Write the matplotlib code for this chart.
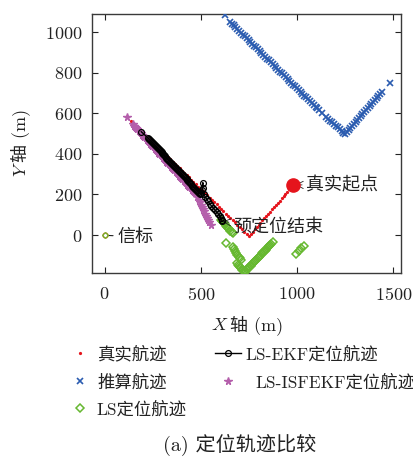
import matplotlib
matplotlib.use('Agg')
import matplotlib.pyplot as plt
from matplotlib.lines import Line2D

plt.rcParams['font.family'] = ['cmr10', 'Noto Sans CJK SC']
plt.rcParams['mathtext.fontset'] = 'cm'
plt.rcParams['axes.formatter.use_mathtext'] = True
plt.rcParams['axes.unicode_minus'] = False

RED = '#e5141c'
BLUE = '#2b5cb0'
GREEN = '#66b830'
PURPLE = '#b45fab'
TXT = '#222222'

# ---------------- data ----------------
# true track (red dots)
true_x = [980, 970, 960, 950, 940, 930, 920, 910, 900, 890, 880, 870, 860, 850, 840, 830,
          820, 810, 800, 790, 780, 770, 760, 750,
          738, 726, 714, 702, 690, 678, 666, 654, 642, 630, 618, 606, 594, 582, 570, 558,
          546, 534, 522, 510, 498, 486, 474, 462, 450, 438, 426, 414, 402, 390, 378, 366,
          354, 342, 330, 318, 306, 294, 282, 270, 258, 246, 234, 222, 210, 198, 186, 174,
          162, 150, 140]
true_y = [247, 236, 225, 214, 203, 192, 182, 170, 159, 148, 137, 126, 115, 104, 94, 83,
          72, 61, 50, 39, 28, 17, 6, -5,
          6, 17, 28, 39, 51, 62, 73, 84, 95, 106, 117, 128, 139, 151, 162, 173,
          184, 195, 206, 217, 228, 239, 251, 262, 273, 284, 295, 306, 317, 328, 339, 351,
          362, 373, 384, 395, 406, 417, 428, 439, 451, 462, 473, 484, 495, 506, 517, 528,
          539, 550, 560]
start_x = [980]
start_y = [247]

# dead-reckoning track (blue x)
dr_x = [625,
        651, 661, 670, 680, 690, 699, 709, 719, 728, 738, 748, 757, 767, 777, 786, 796,
        806, 815, 825, 835, 844, 854, 864, 873, 883, 893, 902, 912, 922, 931, 941, 951,
        960, 970, 980, 989, 999, 1009, 1018, 1028, 1038, 1047, 1057, 1067, 1076, 1086,
        1096, 1105, 1115, 1128,
        1151, 1161, 1171, 1181, 1191, 1201, 1211, 1221, 1231, 1241, 1250,
        1259, 1268, 1277, 1286, 1295, 1304, 1313, 1322, 1331, 1340, 1349, 1358, 1368,
        1377, 1386, 1395, 1404, 1413, 1422, 1431, 1441,
        1481]
dr_y = [1085,
        1051, 1042, 1033, 1024, 1014, 1006, 996, 987, 979, 969, 960, 951, 942, 932, 924, 915,
        905, 897, 887, 878, 869, 860, 851, 842, 833, 823, 815, 805, 796, 787, 778, 769,
        760, 751, 741, 733, 723, 714, 706, 696, 687, 678, 669, 660, 651, 642,
        632, 624, 614, 602,
        580, 572, 563, 555, 547, 539, 530, 522, 514, 505, 497,
        507, 517, 527, 537, 546, 556, 566, 576, 586, 596, 606, 615, 626,
        636, 646, 656, 666, 675, 685, 695, 706,
        747]

# LS positioning (green diamonds)
ls_x = [606, 612, 617, 622, 628, 633, 638, 644, 649, 654, 660, 666,
        630,
        665, 671, 677, 683, 689, 696, 703, 710,
        686, 692, 698, 704, 710, 716, 722, 729,
        735, 741, 747, 753, 759, 765, 771, 777, 783, 789, 795, 801, 807, 813, 819, 825,
        831, 837, 843, 849, 855, 861, 867, 873,
        995, 1008, 1022, 1036]
ls_y = [76, 70, 64, 58, 52, 46, 40, 34, 28, 22, 16, 10,
        -38,
        -61, -70, -80, -89, -98, -106, -114, -122,
        -139, -146, -152, -158, -164, -170, -175, -181,
        -175, -169, -163, -157, -151, -145, -139, -133, -127, -121, -115, -109, -103, -97, -90, -84,
        -78, -72, -66, -60, -54, -48, -42, -36,
        -92, -80, -66, -52]

# LS-ISFEKF positioning (purple)
isf_x = [116,
         147, 153, 159, 165, 171, 177, 183, 189, 195, 201, 207, 213, 219, 225, 231, 237,
         243, 249, 255, 261, 267, 273, 279, 285, 291, 297, 303, 309, 315, 321, 327, 333,
         339, 345, 351, 357, 363, 369, 375, 381, 387, 393, 399, 405, 411, 417, 423, 429,
         435, 441, 447, 453, 459, 465, 471,
         482, 490, 496, 502, 507, 512, 517, 522, 527, 532, 538, 544, 552]
isf_y = [580,
         545, 539, 532, 526, 520, 514, 507, 501, 495, 488, 482, 476, 469, 463, 457, 450,
         444, 438, 432, 425, 419, 413, 406, 400, 394, 387, 381, 375, 369, 362, 356, 350,
         343, 337, 331, 324, 318, 312, 306, 299, 293, 287, 280, 274, 268, 261, 255, 249,
         243, 236, 230, 224, 217, 211, 205,
         185, 172, 162, 150, 140, 128, 117, 106, 95, 84, 73, 62, 50]

# LS-EKF positioning (black circles)
ekf_x = [191,
         226, 231, 236, 241, 246, 251, 256, 261, 266, 271, 276, 281, 286, 291, 296, 301,
         306, 311, 316, 321, 326, 331, 336, 341, 346, 351, 356, 361, 366, 371, 376, 381,
         386, 391, 396, 401, 406, 411, 416, 421, 426, 431, 436, 441, 446, 451, 456, 461,
         466, 471, 476, 481, 486, 491, 496,
         500, 506, 511, 510, 516, 524, 532, 538, 546, 555, 564, 573, 582, 590, 598, 604,
         608, 612]
ekf_y = [509,
         478, 473, 468, 463, 458, 453, 448, 442, 437, 432, 427, 422, 417, 412, 407, 402,
         397, 392, 387, 382, 376, 371, 366, 361, 356, 351, 346, 341, 336, 331, 326, 321,
         316, 310, 305, 300, 295, 290, 285, 280, 275, 270, 265, 260, 255, 250, 244, 239,
         234, 229, 224, 219, 214, 209, 204,
         206, 222, 258, 230, 200, 186, 176, 166, 154, 144, 134, 124, 114, 106, 94, 82,
         74, 68]

beacon_x = [0]
beacon_y = [0]

xticks = [0, 500, 1000, 1500]
yticks = [0, 200, 400, 600, 800, 1000]

# ---------------- figure ----------------
W, H = 414, 461
fig = plt.figure(figsize=(W / 100, H / 100), dpi=100)
ax = fig.add_axes([92 / W, 1 - 273 / H, (401 - 92) / W, (273 - 14) / H])

ax.plot(true_x, true_y, linestyle='none', marker='.', ms=2.6, color=RED, zorder=2)
ax.plot(dr_x, dr_y, linestyle='none', marker='x', ms=3.8, mew=1.2, color=BLUE, zorder=3)
ax.plot(ls_x, ls_y, linestyle='none', marker='D', ms=3.8, mfc='none', mec=GREEN, mew=1.1, zorder=3)
ax.plot(isf_x, isf_y, linestyle='none', marker='*', ms=5.5, color=PURPLE, mec=PURPLE, zorder=4)
ax.plot(ekf_x, ekf_y, '-o', ms=4.2, mfc='none', color='black', mew=0.9, lw=1.0, zorder=5)
ax.plot(start_x, start_y, 'o', ms=9.5, color=RED, zorder=6)
ax.plot(beacon_x, beacon_y, linestyle='none', marker='o', ms=3.5, mfc='none', mec='#e07020', mew=1.0, zorder=6)
ax.plot(beacon_x, beacon_y, linestyle='none', marker='D', ms=3.0, mfc='none', mec=GREEN, mew=0.8, zorder=6)

ax.set_xlim(-65, 1540)
ax.set_ylim(-187, 1089)
ax.set_xticks(xticks)
ax.set_yticks(yticks)
ax.tick_params(direction='in', top=True, right=True, length=4, width=0.8,
               labelsize=13, colors=TXT)
ax.tick_params(axis='x', pad=9)
ax.tick_params(axis='y', pad=7)
for s in ax.spines.values():
    s.set_color('#3a3a3a')
    s.set_linewidth(1.0)

ann_kw = dict(fontsize=13, color=TXT, va='center', ha='left')
ax.annotate('真实起点', xy=(990, 247), xytext=(1048, 247),
            arrowprops=dict(arrowstyle='->', lw=0.6, color=TXT, shrinkA=1, shrinkB=0), **ann_kw)
ax.annotate('预定位结束', xy=(614, 66), xytext=(668, 44),
            arrowprops=dict(arrowstyle='->', lw=0.6, color=TXT, shrinkA=1, shrinkB=0), **ann_kw)
ax.annotate('信标', xy=(18, -2), xytext=(66, -8),
            arrowprops=dict(arrowstyle='-', lw=0.8, color=TXT, shrinkA=1, shrinkB=0), **ann_kw)

# ---------------- axis labels: italic variable + CJK text ----------------
renderer = fig.canvas.get_renderer()


def px(x, y_top):
    return x / W, 1 - y_top / H


def xlabel_mixed(var, rest, cx, base_y):
    t1 = fig.text(0, 0, var, family='cmmi10', fontsize=13, color=TXT, ha='left', va='baseline')
    t2 = fig.text(0, 0, rest, fontsize=13, color=TXT, ha='left', va='baseline')
    w1 = t1.get_window_extent(renderer).width
    w2 = t2.get_window_extent(renderer).width
    left = cx - (w1 + w2) / 2
    t1.set_position(px(left, base_y))
    t2.set_position(px(left + w1 + 3, base_y))


def ylabel_mixed(var, rest, base_x, cy):
    t1 = fig.text(0, 0, var, family='cmmi10', fontsize=13, color=TXT, ha='left', va='baseline',
                  rotation=90, rotation_mode='anchor')
    t2 = fig.text(0, 0, rest, fontsize=13, color=TXT, ha='left', va='baseline',
                  rotation=90, rotation_mode='anchor')
    h1 = t1.get_window_extent(renderer).height
    h2 = t2.get_window_extent(renderer).height
    bottom = cy + (h1 + h2) / 2  # y from top
    t1.set_position(px(base_x, bottom))
    t2.set_position(px(base_x, bottom - h1 - 3))


xlabel_mixed('X', '轴 (m)', 246, 330)
ylabel_mixed('Y', '轴 (m)', 25, 144)

# ---------------- legend (one entry per legend, placed in pixels) ----------------
FS = 12.5
fs_px = FS * 100 / 72
pad_px = 4


def entry(handle, label, mx, ty, tx):
    L = 2 * (tx - pad_px - mx)
    left = mx - L / 2
    leg = fig.legend(handles=[handle], labels=[label], loc='center left',
                     bbox_to_anchor=(left / W, 1 - ty / H), bbox_transform=fig.transFigure,
                     frameon=False, fontsize=FS, borderpad=0, borderaxespad=0,
                     handlelength=L / fs_px, handletextpad=pad_px / fs_px)
    for t in leg.get_texts():
        t.set_color(TXT)
    return leg


h_true = Line2D([], [], linestyle='none', marker='.', ms=2.6, color=RED)
h_dr = Line2D([], [], linestyle='none', marker='x', ms=3.8, mew=1.2, color=BLUE)
h_ls = Line2D([], [], linestyle='none', marker='D', ms=3.8, mfc='none', mec=GREEN, mew=1.1)
h_ekf = Line2D([], [], linestyle='-', marker='o', ms=4.2, mfc='none', color='black', mew=0.9, lw=1.0)
h_isf = Line2D([], [], linestyle='none', marker='*', ms=5.5, color=PURPLE, mec=PURPLE)

entry(h_true, '真实航迹', 80, 354, 97)
entry(h_ekf, 'LS-EKF定位航迹', 228, 354, 245)
entry(h_dr, '推算航迹', 80, 382, 97)
entry(h_isf, 'LS-ISFEKF定位航迹', 228, 382, 255)
entry(h_ls, 'LS定位航迹', 80, 409, 96)

fig.text(240 / W, 1 - 445 / H, '(a) 定位轨迹比较', fontsize=14.5, ha='center', va='center', color=TXT)

fig.savefig('out.png', dpi=100)
